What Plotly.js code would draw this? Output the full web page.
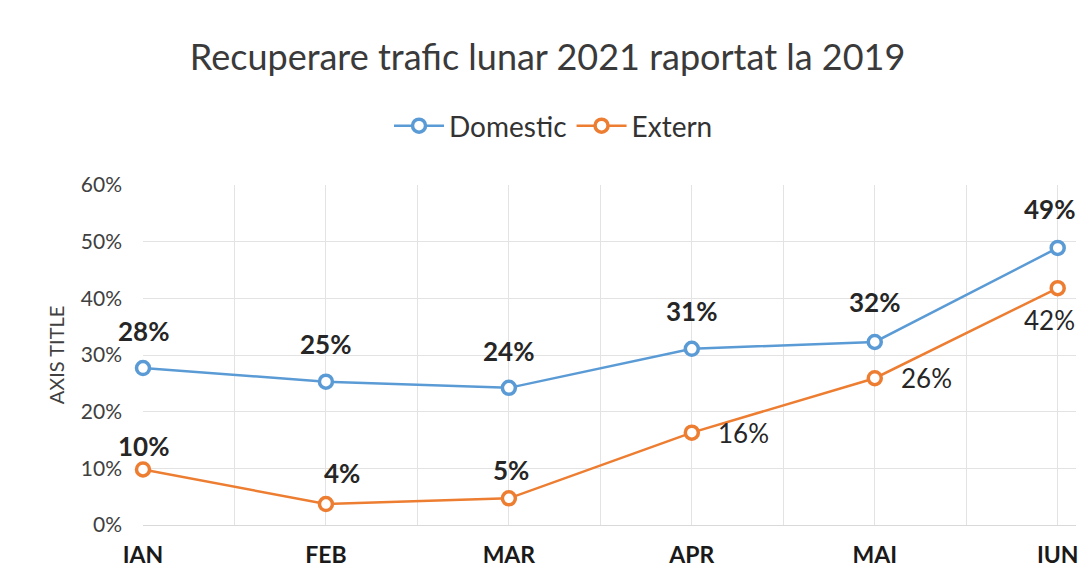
<!DOCTYPE html>
<html>
<head>
<meta charset="utf-8">
<script src="https://cdn.plot.ly/plotly-3.0.1.min.js"></script>
<style>
  html, body { margin: 0; padding: 0; background: #fff; }
  #chart { width: 1078px; height: 583px; }
</style>
</head>
<body>
<div id="chart"></div>
<script>
const months = ["IAN", "FEB", "MAR", "APR", "MAI", "IUN"];
const domestic = [27.7, 25.3, 24.2, 31.1, 32.3, 48.9];
const extern = [9.8, 3.7, 4.7, 16.3, 25.9, 41.8];

const blue = "#5B9BD5";
const orange = "#ED7D31";
const font = "Lato, 'Open Sans', sans-serif";

// label placement for each point: [xshift, yshift, bold]
const domPlace = [[0, 37, true], [0, 38, true], [0, 37, true], [0, 38, true], [0, 40, true], [-8, 39, true]];
const extPlace = [[0, 23, true], [16, 31, true], [2, 28, true], [52, 0, false], [52, 0, false], [-8, -32, false]];

const xs = months.map((m, i) => i);

function series(name, values, color) {
  return {
    x: xs,
    y: values,
    name: name,
    type: "scatter",
    mode: "lines+markers",
    line: { color: color, width: 2.5 },
    marker: { symbol: "circle", size: 13, color: "#fff", line: { color: color, width: 3.5 } },
    cliponaxis: false,
    hoverinfo: "y",
  };
}

function labels(values, place) {
  return values.map((v, i) => ({
    x: xs[i],
    y: v,
    xref: "x",
    yref: "y",
    text: place[i][2] ? "<b>" + Math.round(v) + "%</b>" : Math.round(v) + "%",
    showarrow: false,
    xshift: place[i][0],
    yshift: place[i][1],
    font: { family: font, size: 26, color: "#262626" },
  }));
}

// gridlines at every half category, labels only at categories
const tickVals = [];
const tickText = [];
months.forEach((m, i) => {
  tickVals.push(i, i + 0.5);
  tickText.push(m, "");
});

const layout = {
  width: 1078,
  height: 583,
  paper_bgcolor: "#fff",
  plot_bgcolor: "#fff",
  margin: { l: 143, r: 2, t: 185, b: 58 },
  font: { family: font, color: "#404040" },
  title: {
    text: "Recuperare trafic lunar 2021 raportat la 2019",
    font: { family: font, size: 36, color: "#3a3a3a" },
    x: 0.508,
    xanchor: "center",
    y: 0.902,
    yanchor: "middle",
  },
  showlegend: true,
  legend: {
    orientation: "h",
    x: 0.44,
    xanchor: "center",
    yref: "container",
    y: 0.784,
    yanchor: "middle",
    font: { family: font, size: 28, color: "#333" },
    itemwidth: 50,
  },
  xaxis: {
    range: [0, 5.1],
    tickmode: "array",
    tickvals: tickVals,
    ticktext: tickText,
    showgrid: true,
    gridcolor: "#e3e3e3",
    gridwidth: 1,
    zeroline: false,
    showline: false,
    ticks: "",
    ticklabelstandoff: 14,
    ticklabeloverflow: "allow",
    tickfont: { family: font, size: 23, color: "#1a1a1a", weight: "bold" },
    fixedrange: true,
  },
  yaxis: {
    range: [0, 60],
    tickvals: [0, 10, 20, 30, 40, 50, 60],
    ticktext: ["0%", "10%", "20%", "30%", "40%", "50%", "60%"],
    showgrid: true,
    gridcolor: "#e3e3e3",
    gridwidth: 1,
    zeroline: true,
    zerolinecolor: "#d9d9d9",
    showline: false,
    ticks: "",
    ticklabelstandoff: 20,
    tickfont: { family: font, size: 21, color: "#404040" },
    title: {
      text: "AXIS TITLE",
      font: { family: font, size: 20, color: "#404040" },
      standoff: 10,
    },
    fixedrange: true,
  },
  annotations: labels(domestic, domPlace).concat(labels(extern, extPlace)),
};

Plotly.newPlot("chart", [series("Domestic", domestic, blue), series("Extern", extern, orange)], layout, {
  displayModeBar: false,
  responsive: false,
});
</script>
</body>
</html>
